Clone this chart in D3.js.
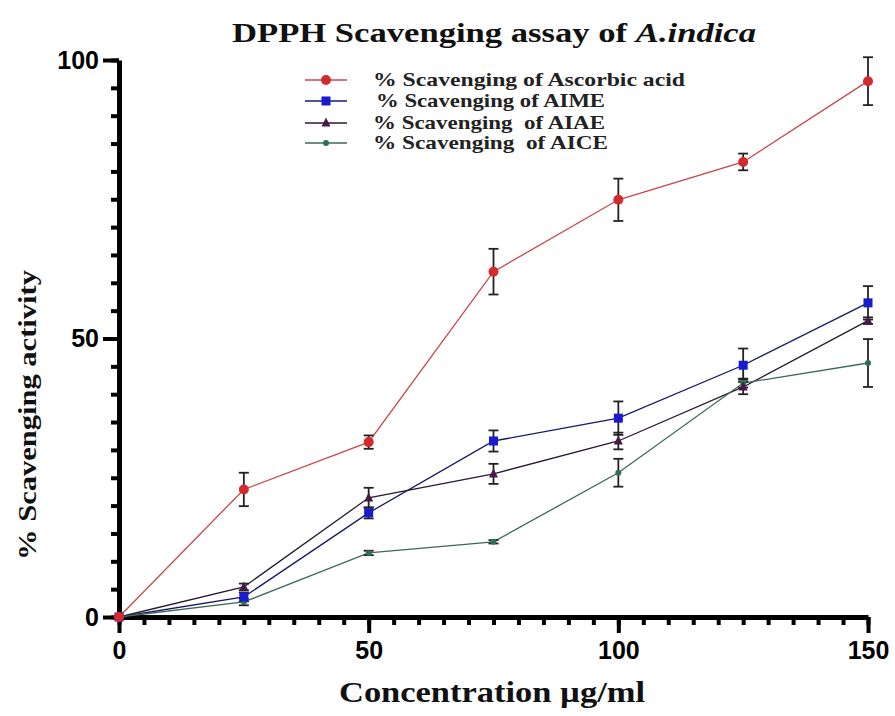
<!DOCTYPE html>
<html>
<head>
<meta charset="utf-8">
<script src="https://cdn.jsdelivr.net/npm/d3@7"></script>
<style>
  body { margin: 0; background: #fff; }
</style>
</head>
<body>
<svg id="chart" width="895" height="716"></svg>
<script>
// concentrations (ug/ml)
var conc = [0, 25, 50, 75, 100, 125, 150];

var ascorbic = [0, 22.9, 31.4, 62.0, 74.9, 81.7, 96.2];
var ascorbicErr = [0, 3.0, 1.2, 4.1, 3.8, 1.5, 4.3];
var aime = [0, 3.6, 18.7, 31.6, 35.7, 45.2, 56.4];
var aimeErr = [0, 0.8, 1.0, 1.9, 3.0, 3.0, 3.0];
var aiae = [0, 5.4, 21.4, 25.7, 31.6, 41.3, 53.2];
var aiaeErr = [0, 0.6, 1.8, 1.8, 1.5, 1.3, 0.6];
var aice = [0, 2.7, 11.5, 13.5, 25.9, 42.0, 45.6];
var aiceErr = [0, 0.6, 0.4, 0.3, 2.5, 0.8, 4.3];

var seriesNames = ["% Scavenging of Ascorbic acid", "% Scavenging of AIME",
                   "% Scavenging  of AIAE", "% Scavenging  of AICE"];
var xTicks = [0, 50, 100, 150];
var yTicks = [0, 50, 100];

var series = [
  { name: seriesNames[0], values: ascorbic, err: ascorbicErr, line: "#c8474a", fill: "#d42a2e", shape: "circle", size: 5 },
  { name: seriesNames[1], values: aime, err: aimeErr, line: "#18186a", fill: "#1a1ad0", shape: "square", size: 9 },
  { name: seriesNames[2], values: aiae, err: aiaeErr, line: "#2a1a30", fill: "#4a1848", shape: "triangle", size: 9 },
  { name: seriesNames[3], values: aice, err: aiceErr, line: "#3a6a58", fill: "#2f6f55", shape: "circle", size: 3 }
];

var svg = d3.select('#chart');
var margin = { top: 60, left: 119, bottom: 99, right: 27 };
var width = 895, height = 716;

var x = d3.scaleLinear().domain([0, 150]).range([margin.left, width - margin.right]);
var y = d3.scaleLinear().domain([0, 100]).range([height - margin.bottom, margin.top]);

// minor ticks every 5
var minor = d3.range(0, 151, 5);
var minorY = d3.range(0, 101, 5);

svg.append("g")
    .attr("transform", "translate(0," + y(0) + ")")
    .call(d3.axisBottom(x).tickValues(minor).tickSize(8).tickFormat(""))
    .call(function (g) { g.select(".domain").remove(); g.selectAll("line").attr("stroke-width", 4); });

svg.append("g")
    .attr("transform", "translate(0," + y(0) + ")")
    .call(d3.axisBottom(x).tickValues(xTicks).tickSize(16).tickPadding(8).tickSizeOuter(0))
    .call(function (g) {
        g.select(".domain").attr("stroke-width", 5);
        g.selectAll("line").attr("stroke-width", 4);
        g.selectAll("text").attr("font-family", "Liberation Sans, Arial").attr("font-weight", "bold")
            .attr("font-size", 25).attr("fill", "#000");
    });

svg.append("g")
    .attr("transform", "translate(" + x(0) + ",0)")
    .call(d3.axisLeft(y).tickValues(minorY).tickSize(8).tickFormat(""))
    .call(function (g) { g.select(".domain").remove(); g.selectAll("line").attr("stroke-width", 4); });

svg.append("g")
    .attr("transform", "translate(" + x(0) + ",0)")
    .call(d3.axisLeft(y).tickValues(yTicks).tickSize(16).tickPadding(4).tickSizeOuter(0))
    .call(function (g) {
        g.select(".domain").attr("stroke-width", 5);
        g.selectAll("line").attr("stroke-width", 4);
        g.selectAll("text").attr("font-family", "Liberation Sans, Arial").attr("font-weight", "bold")
            .attr("font-size", 25).attr("fill", "#000");
    });

var line = d3.line()
    .x(function (d, i) { return x(conc[i]); })
    .y(function (d) { return y(d); });

series.forEach(function (s) {
    svg.append("path")
        .datum(s.values)
        .attr("fill", "none")
        .attr("stroke", s.line)
        .attr("stroke-width", 1.3)
        .attr("d", line);
});

// error bars
series.forEach(function (s) {
    var g = svg.append("g").attr("stroke", "#222").attr("stroke-width", 1.8);
    s.values.forEach(function (v, i) {
        if (!s.err[i]) return;
        var cx = x(conc[i]);
        g.append("line").attr("x1", cx).attr("x2", cx).attr("y1", y(v - s.err[i])).attr("y2", y(v + s.err[i]));
        g.append("line").attr("x1", cx - 5).attr("x2", cx + 5).attr("y1", y(v - s.err[i])).attr("y2", y(v - s.err[i]));
        g.append("line").attr("x1", cx - 5).attr("x2", cx + 5).attr("y1", y(v + s.err[i])).attr("y2", y(v + s.err[i]));
    });
});

function drawMarker(g, s, cx, cy) {
    if (s.shape === "circle") {
        g.append("circle").attr("cx", cx).attr("cy", cy).attr("r", s.size).attr("fill", s.fill);
    } else if (s.shape === "square") {
        g.append("rect").attr("x", cx - s.size / 2).attr("y", cy - s.size / 2)
            .attr("width", s.size).attr("height", s.size).attr("fill", s.fill);
    } else {
        var h = s.size;
        g.append("path").attr("d", "M" + cx + "," + (cy - h * 0.6) + "L" + (cx + h / 2) + "," + (cy + h * 0.4) +
            "L" + (cx - h / 2) + "," + (cy + h * 0.4) + "Z").attr("fill", s.fill);
    }
}

series.slice().reverse().forEach(function (s) {
    var g = svg.append("g");
    s.values.forEach(function (v, i) { drawMarker(g, s, x(conc[i]), y(v)); });
});

// legend
var legY = [80, 101, 123, 143];
var legX = [373, 376, 373, 373];
var legW = [312, 229, 232, 235];
series.forEach(function (s, i) {
    var g = svg.append("g");
    g.append("line").attr("x1", 305).attr("x2", 347).attr("y1", legY[i]).attr("y2", legY[i])
        .attr("stroke", s.line).attr("stroke-width", 1.5);
    drawMarker(g, s, 326, legY[i]);
    g.append("text").attr("x", legX[i]).attr("y", legY[i] + 6)
        .attr("font-family", "Liberation Serif, Times New Roman").attr("font-weight", "bold")
        .attr("font-size", 19).attr("fill", "#222").style("white-space", "pre")
        .attr("textLength", legW[i]).attr("lengthAdjust", "spacingAndGlyphs")
        .text(s.name);
});

// title
var title = svg.append("text")
    .attr("x", 494).attr("y", 42)
    .attr("text-anchor", "middle")
    .attr("font-family", "Liberation Serif, Times New Roman").attr("font-weight", "bold")
    .attr("font-size", 27).attr("fill", "#111")
    .attr("textLength", 524).attr("lengthAdjust", "spacingAndGlyphs");
title.append("tspan").text("DPPH Scavenging assay of ");
title.append("tspan").attr("font-style", "italic").text("A.indica");

// axis labels
svg.append("text")
    .attr("x", 492).attr("y", 702)
    .attr("text-anchor", "middle")
    .attr("font-family", "Liberation Serif, Times New Roman").attr("font-weight", "bold")
    .attr("font-size", 29).attr("fill", "#111")
    .attr("textLength", 306).attr("lengthAdjust", "spacingAndGlyphs")
    .text("Concentration µg/ml");

svg.append("text")
    .attr("transform", "translate(36," + 415 + "), rotate(-90)")
    .attr("text-anchor", "middle")
    .attr("font-family", "Liberation Serif, Times New Roman").attr("font-weight", "bold")
    .attr("font-size", 26).attr("fill", "#111")
    .attr("textLength", 290).attr("lengthAdjust", "spacingAndGlyphs")
    .text("% Scavenging activity");
</script>
</body>
</html>
